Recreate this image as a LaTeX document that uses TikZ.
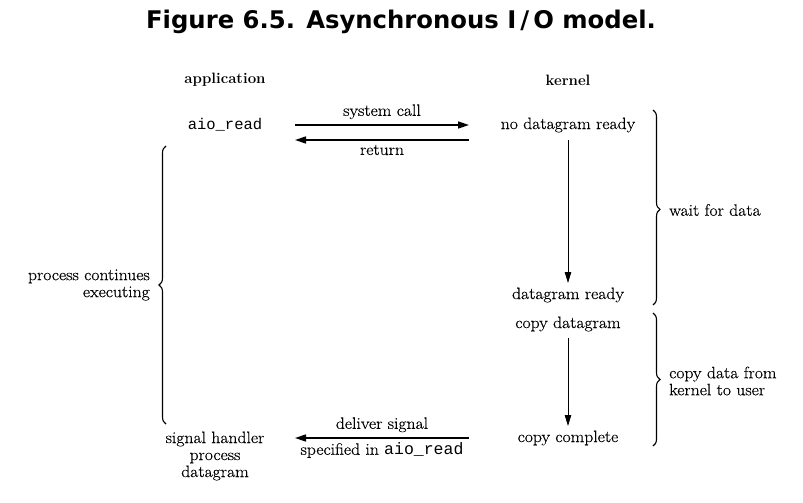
\documentclass[tikz,border=0pt]{standalone}
\usepackage{fontspec}
\setmonofont{Liberation Mono}
\newfontfamily\bodyfont{Latin Modern Roman}[FakeStretch=1.07,FakeBold=0.4]
\newfontfamily\titlefont{DejaVu Sans}
\usetikzlibrary{arrows.meta,decorations.pathreplacing}
\begin{document}
\begin{tikzpicture}[x=1pt,y=-1pt,
  txt/.style={inner sep=0pt,font=\bodyfont\fontsize{16.5}{19}\selectfont},
  hdr/.style={inner sep=0pt,font=\fontsize{15}{18}\selectfont\bfseries},
  mono/.style={inner sep=0pt,font=\fontsize{15.5}{18}\selectfont\ttfamily},
  harrow/.style={line width=1.6pt,-{Triangle[length=11pt,width=7pt]}},
  varrow/.style={line width=0.9pt,-{Triangle[length=11pt,width=6.5pt]}},
  brc/.style={line width=1.1pt,decorate,decoration={brace,amplitude=7pt,aspect=#1}},
  brc/.default=0.5]
\useasboundingbox (0,0) rectangle (803,503);
\node[inner sep=0pt,font=\titlefont\fontsize{24.3}{28}\selectfont\bfseries] (title) at (401,22) {Figure 6.5. Asynchronous I\,/\,O model.};
\node[hdr] (app) at (225,80) {application};
\node[hdr] (ker) at (568,80) {kernel};
\node[mono] (aio) at (225,125) {aio\_read};
\node[txt] (nodr) at (568,125) {no datagram ready};
\node[txt] (dr) at (568,295) {datagram ready};
\node[txt] (cpd) at (568,324) {copy datagram};
\node[txt] (cpc) at (568,438) {copy complete};
\node[txt,align=center] (sig) at (215,456) {signal handler\\[-2pt]process\\[-2pt]datagram};
\coordinate (a1) at (295,125); \coordinate (b1) at (469,125);
\coordinate (a2) at (295,140); \coordinate (b2) at (469,140);
\coordinate (a3) at (295,438); \coordinate (b3) at (469,438);
\draw[harrow] (a1) -- node[txt,above=5pt] (sc) {system call} (b1);
\draw[harrow] (b2) -- node[txt,below=4pt] (ret) {return} (a2);
\draw[harrow] (b3) -- node[txt,above=5pt] (dl) {deliver signal} node[txt,below=4pt] (sp) {specified in {\normalfont\ttfamily aio\_read}} (a3);
\coordinate (v1s) at (568,140); \coordinate (v1e) at (568,283);
\coordinate (v2s) at (568,338); \coordinate (v2e) at (568,426);
\draw[varrow] (v1s) -- (v1e);
\draw[varrow] (v2s) -- (v2e);
% right braces
\coordinate (r1t) at (653,110); \coordinate (r1b) at (653,305);
\coordinate (r2t) at (653,313); \coordinate (r2b) at (653,446);
\draw[brc=0.51] (r1t) -- (r1b);
\draw[brc=0.5] (r2t) -- (r2b);
\node[txt,anchor=west] (wfd) at (669,210) {wait for data};
\node[txt,anchor=west,align=left] (cdk) at (669,381) {copy data from\\[-2pt]kernel to user};
% left brace
\coordinate (lt) at (166,146); \coordinate (lb) at (166,424);
\draw[brc=0.5] (lb) -- (lt);
\node[txt,anchor=east,align=right] (pce) at (150,285) {process continues\\[-2pt]executing};
\end{tikzpicture}
\end{document}
